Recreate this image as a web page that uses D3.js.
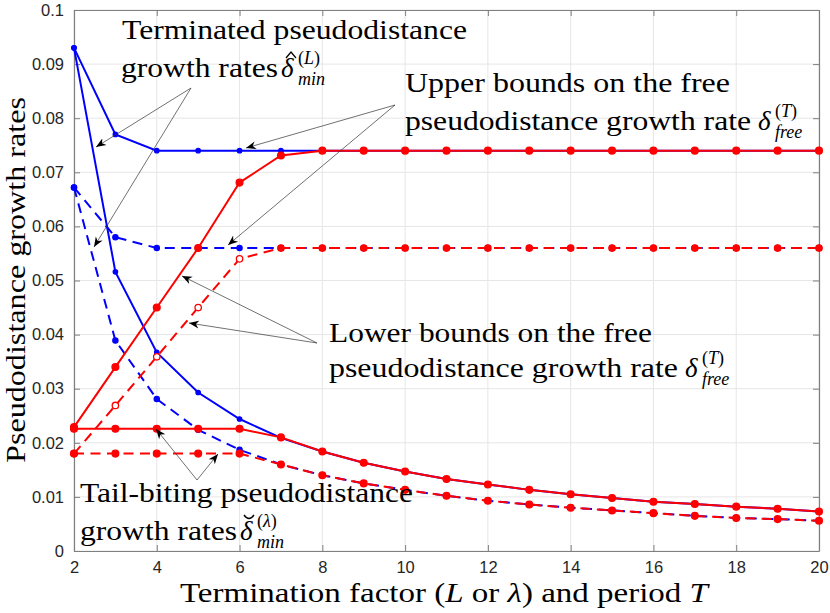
<!DOCTYPE html>
<html>
<head>
<meta charset="utf-8">
<script src="https://cdn.jsdelivr.net/npm/d3@7"></script>
<style>
  body { margin: 0; background: #fff; }
  svg { display: block; }
</style>
</head>
<body>
<svg id="chart" width="830" height="613"></svg>
<script>
// x positions (termination factor L / lambda, period T)
const xValues = d3.range(2, 21);

// terminated rates (blue)
const termSolidFlat  = [0.093, 0.077, 0.074, 0.074, 0.074, 0.074, 0.074, 0.074, 0.074, 0.074, 0.074, 0.074, 0.074, 0.074, 0.074, 0.074, 0.074, 0.074, 0.074];
const termSolidDecay = [0.093, 0.0516, 0.0367, 0.0293, 0.0244, 0.0209, 0.0184, 0.0163, 0.0147, 0.0133, 0.0123, 0.0113, 0.0105, 0.0098, 0.0091, 0.0087, 0.0082, 0.0078, 0.0073];
const termDashFlat   = [0.0672, 0.058, 0.056, 0.056, 0.056, 0.056, 0.056, 0.056, 0.056, 0.056, 0.056, 0.056, 0.056, 0.056, 0.056, 0.056, 0.056, 0.056, 0.056];
const termDashDecay  = [0.0672, 0.0389, 0.0281, 0.0224, 0.0187, 0.016, 0.014, 0.0125, 0.0113, 0.0102, 0.0093, 0.0086, 0.008, 0.0075, 0.007, 0.0065, 0.0061, 0.0059, 0.0056];

// lower bounds on free rate (red, rising)
const lowerSolid = [0.0229, 0.034, 0.045, 0.056, 0.0681, 0.0731, 0.074, 0.074, 0.074, 0.074, 0.074, 0.074, 0.074, 0.074, 0.074, 0.074, 0.074, 0.074, 0.074];
const lowerDash  = [0.018, 0.0269, 0.0359, 0.045, 0.054, 0.056, 0.056, 0.056, 0.056, 0.056, 0.056, 0.056, 0.056, 0.056, 0.056, 0.056, 0.056, 0.056, 0.056];

// tail-biting rates (red)
const tailSolid = [0.0226, 0.0226, 0.0226, 0.0226, 0.0226, 0.021, 0.0184, 0.0163, 0.0147, 0.0133, 0.0123, 0.0113, 0.0105, 0.0098, 0.0091, 0.0087, 0.0082, 0.0078, 0.0073];
const tailDash  = [0.018, 0.018, 0.018, 0.018, 0.018, 0.016, 0.014, 0.0125, 0.0113, 0.0102, 0.0093, 0.0086, 0.008, 0.0075, 0.007, 0.0065, 0.0061, 0.0059, 0.0056];

const xTicks = [2, 4, 6, 8, 10, 12, 14, 16, 18, 20];
const yTicks = [0, 0.01, 0.02, 0.03, 0.04, 0.05, 0.06, 0.07, 0.08, 0.09, 0.1];
const yTickLabels = ["0", "0.01", "0.02", "0.03", "0.04", "0.05", "0.06", "0.07", "0.08", "0.09", "0.1"];

let plotLeft = 74, plotRight = 819, plotTop = 10, plotBottom = 551;
const serif = "'Liberation Serif'";
const sans = "'Liberation Sans'";
const axisColor = "#262626";

let svg = d3.select("#chart");

let xScale = d3.scaleLinear().domain([2, 20]).range([plotLeft, plotRight]);
let yScale = d3.scaleLinear().domain([0, 0.1]).range([plotBottom, plotTop]);

// grid
let grid = svg.append("g");
grid.selectAll(".gx").data(xTicks).enter().append("line")
    .attr("x1", d => xScale(d)).attr("x2", d => xScale(d))
    .attr("y1", plotTop).attr("y2", plotBottom)
    .attr("stroke", "#e6e6e6").attr("stroke-width", 1);
grid.selectAll(".gy").data(yTicks).enter().append("line")
    .attr("x1", plotLeft).attr("x2", plotRight)
    .attr("y1", d => yScale(d)).attr("y2", d => yScale(d))
    .attr("stroke", "#e6e6e6").attr("stroke-width", 1);

// axes (ticks pointing inward, box on)
function styleAxis(g) {
    g.selectAll("path").attr("stroke", "#7f7f7f").attr("stroke-width", 1.2);
    g.selectAll("line").attr("stroke", "#7f7f7f");
    g.selectAll("text").attr("fill", axisColor)
        .style("font-family", sans).style("font-size", "16.5px");
}

svg.append("g").attr("transform", "translate(0," + plotBottom + ")")
    .call(d3.axisBottom(xScale).tickValues(xTicks).tickSize(-6).tickSizeOuter(0).tickPadding(10).tickFormat(d3.format("d")))
    .call(styleAxis);
svg.append("g").attr("transform", "translate(0," + plotTop + ")")
    .call(d3.axisTop(xScale).tickValues(xTicks).tickSize(-6).tickSizeOuter(0).tickFormat(""))
    .call(styleAxis);
svg.append("g").attr("transform", "translate(" + plotLeft + ",0)")
    .call(d3.axisLeft(yScale).tickValues(yTicks).tickSize(-6).tickSizeOuter(0).tickPadding(10).tickFormat((d, i) => yTickLabels[i]))
    .call(styleAxis);
svg.append("g").attr("transform", "translate(" + plotRight + ",0)")
    .call(d3.axisRight(yScale).tickValues(yTicks).tickSize(-6).tickSizeOuter(0).tickFormat(""))
    .call(styleAxis);

// series
let line = d3.line().x((d, i) => xScale(xValues[i])).y(d => yScale(d));

// hollow markers on the rising part of the dashed lower bound only
let series = [
    { values: termSolidFlat,  color: "#0000ff", dash: null,     r: 2.2, hollow: 0 },
    { values: termSolidDecay, color: "#0000ff", dash: null,     r: 2.2, hollow: 0 },
    { values: termDashFlat,   color: "#0000ff", dash: "10,6.5", r: 2.6, hollow: 0 },
    { values: termDashDecay,  color: "#0000ff", dash: "10,6.5", r: 2.6, hollow: 0 },
    { values: lowerSolid,     color: "#ff0000", dash: null,     r: 3.4, hollow: 0 },
    { values: lowerDash,      color: "#ff0000", dash: "10,6.5", r: 3.2, hollow: 5 },
    { values: tailSolid,      color: "#ff0000", dash: null,     r: 3.4, hollow: 0 },
    { values: tailDash,       color: "#ff0000", dash: "10,6.5", r: 3.4, hollow: 0 }
];

let plot = svg.append("g");
series.forEach(function(s) {
    let g = plot.append("g");
    g.append("path").datum(s.values)
        .attr("d", line)
        .attr("fill", "none")
        .attr("stroke", s.color)
        .attr("stroke-width", 2)
        .attr("stroke-dasharray", s.dash);
    g.selectAll("circle").data(s.values).enter().append("circle")
        .attr("cx", (d, i) => xScale(xValues[i]))
        .attr("cy", d => yScale(d))
        .attr("r", s.r)
        .attr("fill", (d, i) => i < s.hollow ? "#fff" : s.color)
        .attr("stroke", s.color)
        .attr("stroke-width", 1.3);
});

// arrows
let defs = svg.append("defs");
defs.append("marker").attr("id", "arr")
    .attr("viewBox", "0 0 10 10").attr("refX", 10).attr("refY", 5)
    .attr("markerWidth", 10).attr("markerHeight", 10)
    .attr("markerUnits", "userSpaceOnUse")
    .attr("orient", "auto")
    .append("path").attr("d", "M0,1 L10,5 L0,9 L3,5 Z").attr("fill", "#000");

let arrows = [
    [191, 88, 96, 147], [191, 88, 94, 247],
    [395, 105, 246, 148], [395, 105, 228, 245],
    [317, 343, 182, 276], [317, 343, 189, 323],
    [197, 480, 156, 429], [197, 480, 218, 454]
];
svg.append("g").selectAll("line").data(arrows).enter().append("line")
    .attr("x1", d => d[0]).attr("y1", d => d[1])
    .attr("x2", d => d[2]).attr("y2", d => d[3])
    .attr("stroke", "#333").attr("stroke-width", 0.7)
    .attr("marker-end", "url(#arr)");

// annotation text
let notes = svg.append("g").attr("fill", "#000");

function textLine(x, y, str, len) {
    notes.append("text").attr("x", x).attr("y", y)
        .attr("textLength", len).attr("lengthAdjust", "spacingAndGlyphs")
        .style("font-family", serif).style("font-size", "27px").text(str);
}
function delta(x, y, sup, sub) {
    notes.append("text").attr("x", x).attr("y", y)
        .style("font-family", serif).style("font-size", "27px").style("font-style", "italic").text("δ");
    let s = notes.append("text").attr("x", x + 17).attr("y", y - 13)
        .style("font-family", serif).style("font-size", "18px");
    s.append("tspan").text("(");
    s.append("tspan").style("font-style", "italic").text(sup);
    s.append("tspan").text(")");
    notes.append("text").attr("x", x + 17).attr("y", y + 8)
        .style("font-family", serif).style("font-size", "18px").style("font-style", "italic").text(sub);
}

textLine(122, 39, "Terminated pseudodistance", 345);
textLine(121, 77, "growth rates", 157);
delta(281, 77, "L", "min");
notes.append("path").attr("d", "M286,58 L291,52 L296,58").attr("fill", "none").attr("stroke", "#000").attr("stroke-width", 1.3);

textLine(405, 92, "Upper bounds on the free", 325);
textLine(405, 130, "pseudodistance growth rate", 346);
delta(758, 130, "T", "free");

textLine(329, 342, "Lower bounds on the free", 323);
textLine(329, 377, "pseudodistance growth rate", 349);
delta(685, 377, "T", "free");

textLine(80, 502, "Tail-biting pseudodistance", 333);
textLine(80, 540, "growth rates", 157);
delta(240, 540, "λ", "min");
notes.append("path").attr("d", "M244,515 Q249,522 254,515").attr("fill", "none").attr("stroke", "#000").attr("stroke-width", 1.3);

// axis labels
let xl = svg.append("text").attr("x", 444).attr("y", 602)
    .attr("text-anchor", "middle").attr("textLength", 528).attr("lengthAdjust", "spacingAndGlyphs")
    .style("font-family", serif).style("font-size", "27px").attr("fill", "#000");
xl.append("tspan").text("Termination factor (");
xl.append("tspan").style("font-style", "italic").text("L");
xl.append("tspan").text(" or ");
xl.append("tspan").style("font-style", "italic").text("λ");
xl.append("tspan").text(") and period ");
xl.append("tspan").style("font-style", "italic").text("T");

svg.append("text").attr("transform", "translate(25,280) rotate(-90)")
    .attr("text-anchor", "middle").attr("textLength", 366).attr("lengthAdjust", "spacingAndGlyphs")
    .style("font-family", serif).style("font-size", "27px").attr("fill", "#000")
    .text("Pseudodistance growth rates");
</script>
</body>
</html>
